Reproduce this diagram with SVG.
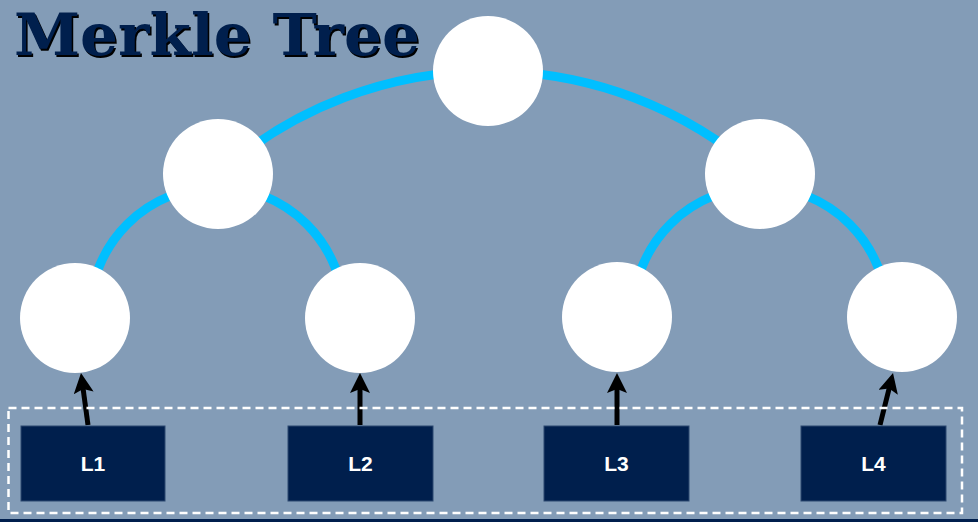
<svg xmlns="http://www.w3.org/2000/svg" width="978" height="522" viewBox="0 0 978 522">
  <defs>
    <style>
      .edge { fill: none; stroke: #00bfff; stroke-width: 9; }
      .node { fill: #ffffff; }
      .arrow { fill: none; stroke: #000000; stroke-width: 5; marker-end: url(#head); }
      .leaf { fill: #001f4d; stroke: #2c4870; stroke-width: 1; }
      .lbl { font-family: "Liberation Sans", Arial, sans-serif; font-weight: bold; font-size: 21px; fill: #ffffff; text-anchor: middle; }
      .title { font-family: "DejaVu Serif", "Liberation Serif", serif; font-weight: bold; font-size: 58px; }
    </style>
    <marker id="head" markerUnits="userSpaceOnUse" markerWidth="20" markerHeight="20" viewBox="0 0 20 20" refX="8" refY="10" orient="auto">
      <path d="M0,0 L20,10 L0,20 L4,10 Z" fill="#000000"/>
    </marker>
  </defs>

  <rect x="0" y="0" width="978" height="522" fill="#839cb7"/>
  <rect x="0" y="519" width="978" height="3" fill="#001f4d"/>

  <g id="title">
    <text class="title" x="15.5" y="56.5" fill="#000000" textLength="406" lengthAdjust="spacingAndGlyphs">Merkle Tree</text>
    <text class="title" x="14" y="55" fill="#001f4d" textLength="406" lengthAdjust="spacingAndGlyphs">Merkle Tree</text>
  </g>

  <g id="connectors">
    <path class="edge" d="M218,174 A408,408 0 0 1 488,71"/>
    <path class="edge" d="M488,71 A408,408 0 0 1 760,174"/>
    <path class="edge" d="M90,314 A127,127 0 0 1 217,187"/>
    <path class="edge" d="M217,187 A127,127 0 0 1 344,314"/>
    <path class="edge" d="M633,314 A127,127 0 0 1 760,187"/>
    <path class="edge" d="M760,187 A127,127 0 0 1 887,314"/>
    <line class="arrow" x1="88" y1="425" x2="82.6" y2="385"/>
    <line class="arrow" x1="360" y1="425" x2="360" y2="385"/>
    <line class="arrow" x1="617" y1="425" x2="617" y2="385"/>
    <line class="arrow" x1="880" y1="425" x2="890.1" y2="384.6"/>
  </g>

  <g id="group-leaves">
    <rect x="8.5" y="408" width="953.5" height="105" fill="none" stroke="#ffffff" stroke-width="2.5" stroke-dasharray="8 5"/>
  </g>

  <g id="root"><circle class="node" cx="488" cy="71" r="55"/></g>
  <g id="hash-left"><circle class="node" cx="218" cy="174" r="55"/></g>
  <g id="hash-right"><circle class="node" cx="760" cy="174" r="55"/></g>
  <g id="hash-1"><circle class="node" cx="75" cy="318" r="55"/></g>
  <g id="hash-2"><circle class="node" cx="360" cy="318" r="55"/></g>
  <g id="hash-3"><circle class="node" cx="617" cy="317" r="55"/></g>
  <g id="hash-4"><circle class="node" cx="902" cy="317" r="55"/></g>

  <g id="L1"><rect class="leaf" x="21" y="426" width="144" height="75"/><text class="lbl" x="93" y="471">L1</text></g>
  <g id="L2"><rect class="leaf" x="288" y="426" width="145" height="75"/><text class="lbl" x="360.5" y="471">L2</text></g>
  <g id="L3"><rect class="leaf" x="544" y="426" width="145" height="75"/><text class="lbl" x="616.5" y="471">L3</text></g>
  <g id="L4"><rect class="leaf" x="801" y="426" width="145" height="75"/><text class="lbl" x="873.5" y="471">L4</text></g>
</svg>
